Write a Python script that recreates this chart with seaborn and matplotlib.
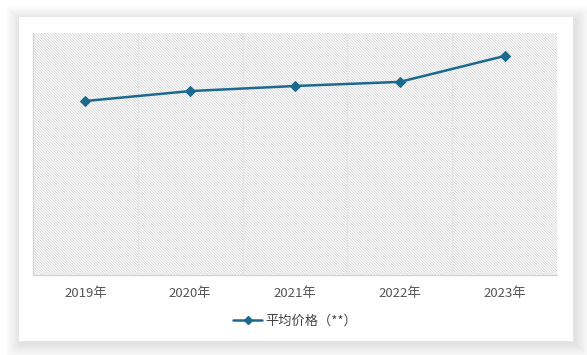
import matplotlib
matplotlib.use("Agg")
import matplotlib.pyplot as plt
from matplotlib.patches import Rectangle
from matplotlib.lines import Line2D
import seaborn as sns
import pandas as pd

years = ["2019年", "2020年", "2021年", "2022年", "2023年"]
price = [71.9, 76.0, 78.1, 79.8, 90.5]
series_name = "平均价格（**）"

sns.set_style("white")
plt.rcParams["font.family"] = ["Noto Sans CJK SC", "DejaVu Sans"]

W, H = 587, 355
fig = plt.figure(figsize=(W / 100, H / 100), dpi=100)
fig.patch.set_facecolor("white")

# soft card shadow
cx0, cy0, cx1, cy1 = 19, 17, 573, 341
for i in range(14, 0, -1):
    x0 = cx0 - i + 1
    x1 = cx1 + i + 3
    y0 = cy0 - i + 3
    y1 = cy1 + i + 3
    fig.patches.append(Rectangle((x0 / W, (H - y1) / H), (x1 - x0) / W, (y1 - y0) / H,
                                 transform=fig.transFigure, facecolor="black",
                                 edgecolor="none", alpha=0.009, zorder=0))
fig.patches.append(Rectangle((cx0 / W, (H - cy1) / H), (cx1 - cx0) / W, (cy1 - cy0) / H,
                             transform=fig.transFigure, facecolor="white",
                             edgecolor="none", zorder=1))

ax = fig.add_axes([33 / W, (H - 275) / H, (557 - 33) / W, (275 - 33) / H])
ax.set_zorder(2)
ax.patch.set_alpha(0)

df = pd.DataFrame({"year": years, "price": price, "x": range(len(years))})

# hatched background
plt.rcParams["hatch.color"] = "#d6d6d6"
plt.rcParams["hatch.linewidth"] = 0.6
ax.add_patch(Rectangle((0, 0), 1, 1, transform=ax.transAxes, facecolor="white",
                       edgecolor="#d6d6d6", hatch="\\" * 12, linewidth=0, zorder=0))

color = "#1b6a8e"
sns.lineplot(data=df, x="x", y="price", ax=ax, color=color, linewidth=1.8,
             marker="D", markersize=5, markeredgecolor=color, zorder=3, legend=False)

ax.set_xlim(-0.5, len(years) - 0.5)
ax.set_ylim(0, 100)
for b in range(1, len(years)):
    ax.axvline(b - 0.5, color="#e4e4e4", linewidth=0.9, zorder=1)

ax.set_xticks(range(len(years)))
ax.set_xticklabels(years, fontsize=9.5, color="#555555")
ax.tick_params(axis="x", length=0, pad=9)
ax.set_yticks([])
ax.set_xlabel("")
ax.set_ylabel("")
for s in ["top", "right"]:
    ax.spines[s].set_visible(False)
for s in ["left", "bottom"]:
    ax.spines[s].set_color("#d4d4d4")
    ax.spines[s].set_linewidth(1.0)

handle = Line2D([0], [0], color=color, linewidth=1.8, marker="D", markersize=4)
fig.legend([handle], [series_name], loc="center", bbox_to_anchor=(295 / W, (H - 321) / H),
           frameon=False, fontsize=9.5, handlelength=2.2, handletextpad=0.2,
           labelcolor="#444444")

fig.savefig("out.png", dpi=100, facecolor="white")
